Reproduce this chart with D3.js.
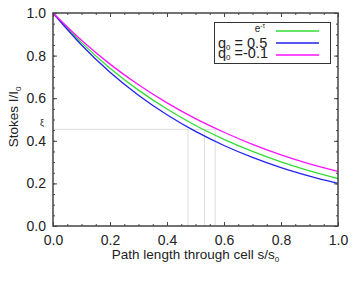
<!DOCTYPE html>
<html lang="en">
<head>
<meta charset="utf-8" />
<title>Stokes I</title>
<script src="https://cdn.jsdelivr.net/npm/d3@7"></script>
<style>
  body { margin: 0; background: #fff; }
  text { font-family: "Liberation Sans", Arial, sans-serif; fill: #222; }
</style>
</head>
<body>
<div id="vis"></div>
<script type="text/javascript">
    // path length s/s0 and the three curves
    var sVals = [0, 0.1, 0.2, 0.3, 0.4, 0.5, 0.6, 0.7, 0.8, 0.9, 1.0];
    var expTau = [1, 0.861, 0.741, 0.638, 0.549, 0.472, 0.407, 0.350, 0.301, 0.259, 0.223];
    var qHalf = [1, 0.850, 0.722, 0.614, 0.522, 0.444, 0.378, 0.322, 0.274, 0.234, 0.200];
    var qNeg = [1, 0.872, 0.760, 0.663, 0.578, 0.504, 0.440, 0.383, 0.334, 0.292, 0.257];
    var xTicks = [0, 0.2, 0.4, 0.6, 0.8, 1.0];
    var yTicks = [0, 0.2, 0.4, 0.6, 0.8, 1.0];
    // guide lines
    var guideLevel = 0.454;
    var guideX = [0.474, 0.532, 0.569];

    var width = 354, height = 281;
    var padL = 53, padR = 338, padT = 13, padB = 226;

    var svg = d3.select("#vis").append("svg")
        .attr("width", width)
        .attr("height", height);

    var x = d3.scaleLinear().domain([0, 1]).range([padL, padR]);
    var y = d3.scaleLinear().domain([0, 1]).range([padB, padT]);

    // gray guides
    svg.append("line")
        .attr("x1", x(0)).attr("x2", x(guideX[2]))
        .attr("y1", y(guideLevel)).attr("y2", y(guideLevel))
        .attr("stroke", "#ddd").attr("stroke-width", 1);
    svg.selectAll("line.vguide").data(guideX).enter()
        .append("line")
        .attr("class", "vguide")
        .attr("x1", function (d) { return x(d); })
        .attr("x2", function (d) { return x(d); })
        .attr("y1", y(0)).attr("y2", y(guideLevel))
        .attr("stroke", "#ddd").attr("stroke-width", 1);
    svg.append("text")
        .attr("x", 42).attr("y", y(guideLevel) - 3)
        .attr("text-anchor", "middle")
        .style("font-size", "9px")
        .text("ξ");

    // curves
    var line = d3.line()
        .x(function (d) { return x(d[0]); })
        .y(function (d) { return y(d[1]); })
        .curve(d3.curveMonotoneX);
    var series = [
        { vals: expTau, color: "#33dd33" },
        { vals: qHalf, color: "#2222ee" },
        { vals: qNeg, color: "#ff11ff" }
    ];
    series.forEach(function (s) {
        svg.append("path")
            .datum(sVals.map(function (v, i) { return [v, s.vals[i]]; }))
            .attr("fill", "none")
            .attr("stroke", s.color)
            .attr("stroke-width", 1.3)
            .attr("d", line);
    });

    // frame with inward ticks on all four sides
    var axisColor = "#444";
    function inward(axis, minor) {
        return axis.tickSizeInner(minor ? -2 : -4).tickSizeOuter(0);
    }
    var minorX = d3.range(0, 1.0001, 0.05);
    var minorY = d3.range(0, 1.0001, 0.05);

    var gB = svg.append("g").attr("transform", "translate(0," + padB + ")");
    gB.call(inward(d3.axisBottom(x), true).tickValues(minorX).tickFormat(""));
    gB.append("g").call(inward(d3.axisBottom(x), false).tickValues(xTicks).tickFormat(d3.format(".1f")).tickPadding(9));
    var gT = svg.append("g").attr("transform", "translate(0," + padT + ")");
    gT.call(inward(d3.axisTop(x), true).tickValues(minorX).tickFormat(""));
    gT.append("g").call(inward(d3.axisTop(x), false).tickValues(xTicks).tickFormat(""));
    var gL = svg.append("g").attr("transform", "translate(" + padL + ",0)");
    gL.call(inward(d3.axisLeft(y), true).tickValues(minorY).tickFormat(""));
    gL.append("g").call(inward(d3.axisLeft(y), false).tickValues(yTicks).tickFormat(d3.format(".1f")).tickPadding(7));
    var gR = svg.append("g").attr("transform", "translate(" + padR + ",0)");
    gR.call(inward(d3.axisRight(y), true).tickValues(minorY).tickFormat(""));
    gR.append("g").call(inward(d3.axisRight(y), false).tickValues(yTicks).tickFormat(""));

    svg.selectAll(".domain").remove();
    svg.selectAll(".tick line").attr("stroke", axisColor);
    svg.selectAll(".tick text").style("font-size", "14px").style("fill", "#222").style("font-family", "Liberation Sans, Arial, sans-serif");
    svg.append("rect")
        .attr("x", padL).attr("y", padT)
        .attr("width", padR - padL).attr("height", padB - padT)
        .attr("fill", "none").attr("stroke", axisColor).attr("stroke-width", 1.5);

    // axis titles
    var xt = svg.append("text")
        .attr("x", (padL + padR) / 2).attr("y", 259)
        .attr("text-anchor", "middle")
        .style("font-size", "13.5px");
    xt.append("tspan").text("Path length through cell s/s");
    xt.append("tspan").attr("dy", 3).style("font-size", "8px").text("0");

    var yt = svg.append("text")
        .attr("transform", "translate(18,117) rotate(-90)")
        .attr("text-anchor", "middle")
        .style("font-size", "13.5px");
    yt.append("tspan").text("Stokes  I/I");
    yt.append("tspan").attr("dy", 3).style("font-size", "8px").text("0");

    // legend
    svg.append("rect")
        .attr("x", 214.5).attr("y", 22.5).attr("width", 116).attr("height", 41)
        .attr("fill", "#fff").attr("stroke", "#333").attr("stroke-width", 1);
    var lg = [
        { color: "#33dd33", y: 31 },
        { rest: " = 0.5", color: "#2222ee", y: 43, base: 47.5 },
        { rest: " =-0.1", color: "#ff11ff", y: 55, base: 57.5 }
    ];
    lg.forEach(function (d, i) {
        svg.append("line")
            .attr("x1", 276).attr("x2", 319)
            .attr("y1", d.y).attr("y2", d.y)
            .attr("stroke", d.color).attr("stroke-width", 1.3);
        if (i === 0) {
            var t = svg.append("text").attr("x", 265).attr("y", 32)
                .attr("text-anchor", "end").style("font-size", "10px");
            t.append("tspan").text("e");
            t.append("tspan").attr("dy", -4).style("font-size", "6.5px").text("-τ");
        } else {
            var t2 = svg.append("text").attr("x", 218).attr("y", d.base)
                .style("font-size", "14.5px");
            t2.append("tspan").text("q");
            t2.append("tspan").attr("dy", 2.5).style("font-size", "8px").text("0");
            t2.append("tspan").attr("dy", -2.5).text(d.rest);
        }
    });
</script>
</body>
</html>
